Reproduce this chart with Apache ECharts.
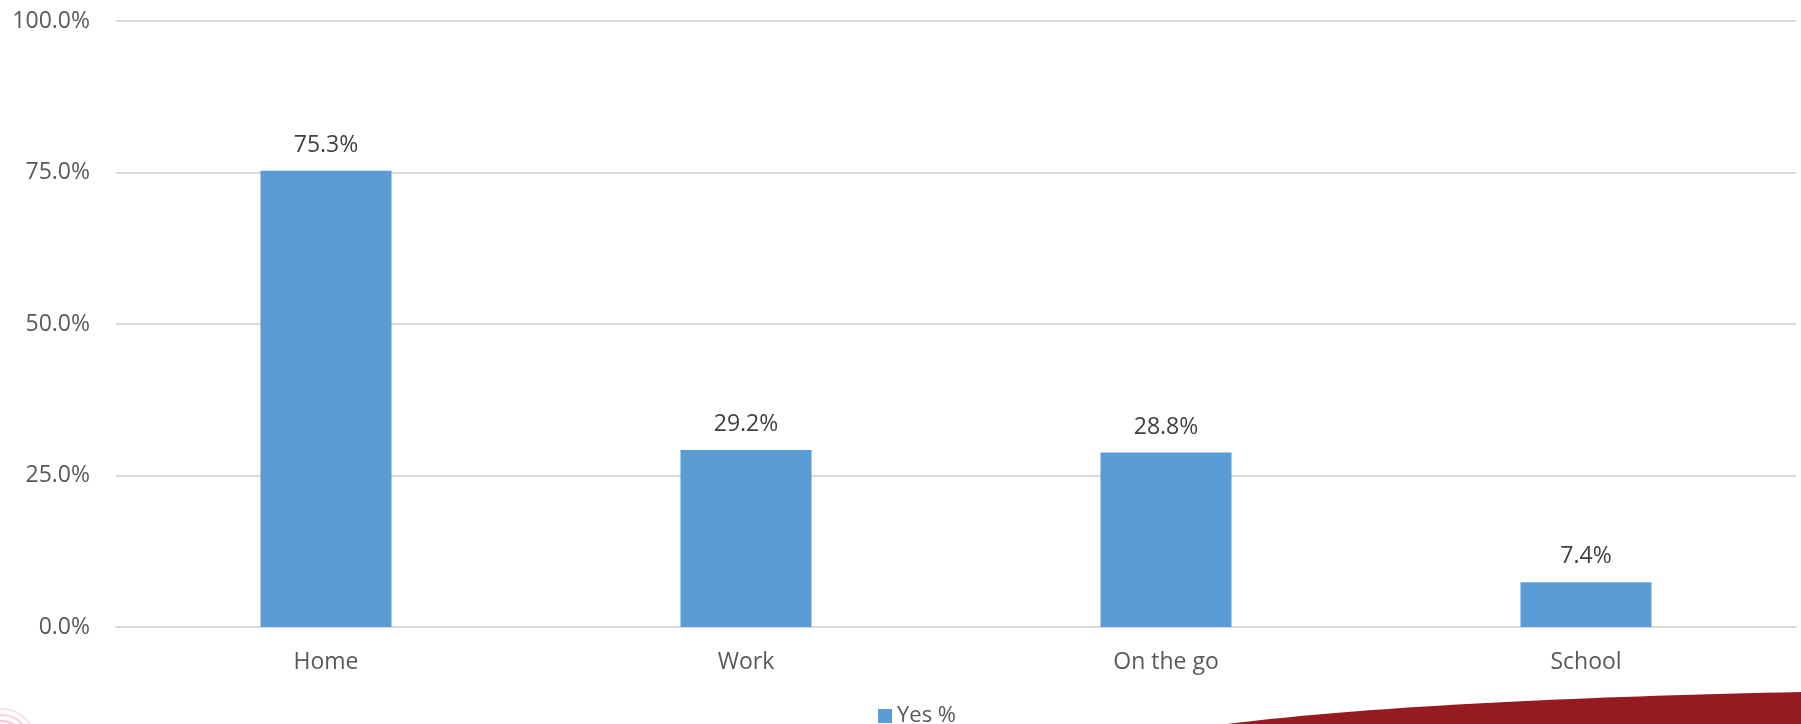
<!DOCTYPE html>
<html>
<head>
<meta charset="utf-8">
<script src="https://cdn.jsdelivr.net/npm/echarts@6/dist/echarts.min.js"></script>
<style>
  html, body { margin: 0; padding: 0; background: #ffffff; }
  #chart { width: 1801px; height: 724px; }
</style>
</head>
<body>
<div id="chart"></div>
<script>
// Share of respondents answering "Yes" per location
const categories = ['Home', 'Work', 'On the go', 'School'];
const yesPercent = [75.3, 29.2, 28.8, 7.4];
const seriesName = 'Yes %';

const FONT = '"Open Sans", sans-serif';
const FONT_SIZE = 23;

// Outline of the decorative swoosh: a quadratic curve sampled into a polygon
function swooshPoints() {
  const p0 = [1227, 724], c = [1420, 700], p1 = [1801, 692];
  const pts = [];
  for (let i = 0; i <= 40; i++) {
    const t = i / 40, u = 1 - t;
    pts.push([
      u * u * p0[0] + 2 * u * t * c[0] + t * t * p1[0],
      u * u * p0[1] + 2 * u * t * c[1] + t * t * p1[1]
    ]);
  }
  pts.push([1801, 724]);
  return pts;
}

const chart = echarts.init(document.getElementById('chart'), null, { renderer: 'canvas' });

chart.setOption({
  animation: false,
  backgroundColor: '#ffffff',
  textStyle: { fontFamily: FONT },
  grid: { left: 116, right: 5, top: 21, bottom: 97, containLabel: false },
  legend: {
    data: [seriesName],
    left: 873,
    top: 700,
    icon: 'rect',
    itemWidth: 14,
    itemHeight: 14,
    itemGap: 6,
    textStyle: { fontFamily: FONT, fontSize: 22, color: '#595959' }
  },
  xAxis: {
    type: 'category',
    data: categories,
    axisLine: { show: true, lineStyle: { color: '#d9d9d9', width: 2 } },
    axisTick: { show: false },
    axisLabel: { fontFamily: FONT, fontSize: FONT_SIZE, color: '#595959', margin: 24 }
  },
  yAxis: {
    type: 'value',
    min: 0,
    max: 100,
    interval: 25,
    axisLine: { show: false },
    axisTick: { show: false },
    splitLine: { lineStyle: { color: '#d9d9d9', width: 2 } },
    axisLabel: {
      fontFamily: FONT, fontSize: FONT_SIZE, color: '#595959', margin: 26,
      formatter: v => v.toFixed(1) + '%'
    }
  },
  series: [{
    name: seriesName,
    type: 'bar',
    data: yesPercent,
    barWidth: '31.2%',
    itemStyle: { color: '#5b9bd5' },
    label: {
      show: true,
      position: 'top',
      distance: 14,
      fontFamily: FONT,
      fontSize: FONT_SIZE,
      color: '#404040',
      formatter: p => p.value.toFixed(1) + '%'
    }
  }],
  graphic: [
    {
      type: 'polygon',
      z: 10,
      shape: { points: swooshPoints() },
      style: { fill: '#961b20' }
    }
  ].concat([9, 15, 21, 27, 33].map((r, i) => ({
    // faint concentric rings in the bottom left corner
    type: 'circle',
    z: 10,
    shape: { cx: 2, cy: 742, r: r },
    style: { fill: 'none', stroke: 'rgba(214, 90, 140, ' + (0.5 - i * 0.08) + ')', lineWidth: 2 }
  })))
});
</script>
</body>
</html>
